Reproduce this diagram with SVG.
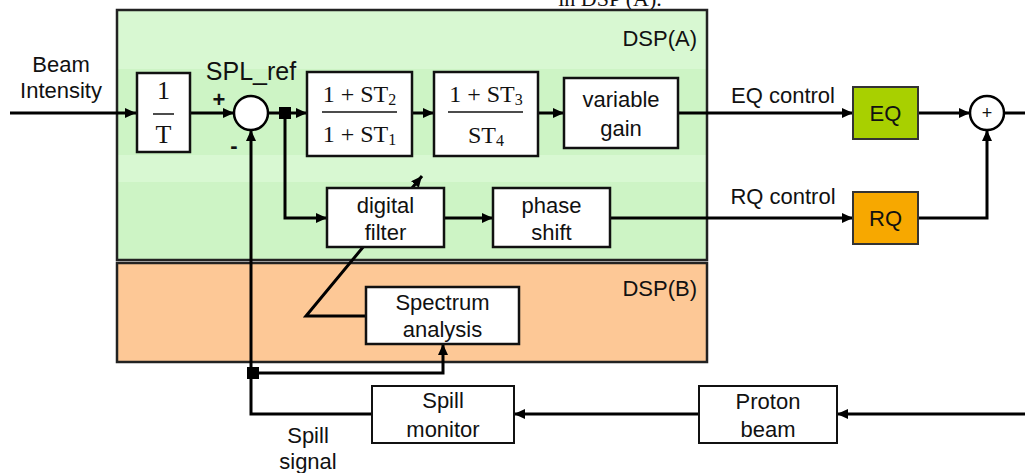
<svg xmlns="http://www.w3.org/2000/svg" width="1025" height="473" viewBox="0 0 1025 473">
<defs>
<style>
.box{fill:#fff;stroke:#111;stroke-width:2.5}
.ln{fill:none;stroke:#000;stroke-width:3}
.t{font-family:"Liberation Sans",Arial,sans-serif;font-size:22px;fill:#111;text-anchor:middle}
.m{font-family:"Liberation Serif","Times New Roman",serif;font-size:24px;fill:#111;text-anchor:middle}
.sub{font-size:16px}
.frac{stroke:#111;stroke-width:1.5}
</style>
<marker id="ah" markerUnits="userSpaceOnUse" markerWidth="12" markerHeight="10" refX="11" refY="5" orient="auto">
<path d="M0,0 L11,5 L0,10 z" fill="#000"/>
</marker>
</defs>
<rect width="1025" height="473" fill="#fff"/>
<text x="610" y="6" class="m" style="font-size:22px">in DSP (A).</text>

<g id="dspA">
<rect x="117" y="10" width="590" height="250" fill="#cdf4c5"/>
<rect x="118" y="11" width="588" height="58" fill="#d8f8d2"/>
<rect x="118" y="155" width="588" height="27" fill="#d8f8d2"/>
<rect x="117" y="10" width="590" height="250" fill="none" stroke="#222" stroke-width="2.5"/>
<text x="697" y="46" class="t" style="text-anchor:end">DSP(A)</text>
</g>
<g id="dspB">
<rect x="117" y="263" width="590" height="99" fill="#fdc896" stroke="#222" stroke-width="2.5"/>
<text x="697" y="296" class="t" style="text-anchor:end">DSP(B)</text>
</g>

<g id="connectors">
<path class="ln" d="M10,113 H136" marker-end="url(#ah)"/>
<path class="ln" d="M190,113 H234" marker-end="url(#ah)"/>
<path class="ln" d="M268,113 H307" marker-end="url(#ah)"/>
<path class="ln" d="M412,113 H434" marker-end="url(#ah)"/>
<path class="ln" d="M538,113 H564" marker-end="url(#ah)"/>
<path class="ln" d="M678,113 H853" marker-end="url(#ah)"/>
<path class="ln" d="M918,113 H970" marker-end="url(#ah)"/>
<path class="ln" d="M1004,113 H1025"/>
<path class="ln" d="M285,113 V218 H327" marker-end="url(#ah)"/>
<path class="ln" d="M444,218 H493" marker-end="url(#ah)"/>
<path class="ln" d="M610,218 H853" marker-end="url(#ah)"/>
<path class="ln" d="M918,218 H987 V130" marker-end="url(#ah)"/>
<path class="ln" d="M372,414 H251 V130" marker-end="url(#ah)"/>
<path class="ln" d="M253,373 H443 V344" marker-end="url(#ah)"/>
<path class="ln" d="M366,316 H306 L422,176" marker-end="url(#ah)"/>
<path class="ln" d="M699,414 H514" marker-end="url(#ah)"/>
<path class="ln" d="M1025,414 H837" marker-end="url(#ah)"/>
<rect x="279" y="107" width="12" height="12" fill="#000"/>
<rect x="247" y="367" width="12" height="12" fill="#000"/>
</g>

<g id="labels">
<text x="61" y="72" class="t">Beam</text>
<text x="61" y="98" class="t">Intensity</text>
<text x="251" y="80" class="t" style="font-size:25px">SPL_ref</text>
<text x="219" y="107" class="t" style="font-size:22px;font-weight:bold">+</text>
<text x="234" y="153" class="t" style="font-size:22px;font-weight:bold">-</text>
<text x="783" y="103" class="t">EQ control</text>
<text x="783" y="204" class="t">RQ control</text>
<text x="308" y="443" class="t">Spill</text>
<text x="308" y="469" class="t">signal</text>
</g>

<g id="inv-T">
<rect class="box" x="137" y="73" width="53" height="79"/>
<text x="163.5" y="99" class="m" style="font-size:26px">1</text>
<line class="frac" x1="153" y1="114" x2="174" y2="114"/>
<text x="163.5" y="143" class="m" style="font-size:26px">T</text>
</g>
<g id="sum1">
<circle cx="251" cy="113" r="17" fill="#fff" stroke="#000" stroke-width="2.5"/>
</g>
<g id="lead-lag">
<rect class="box" x="307" y="72" width="105" height="84"/>
<text x="359.5" y="102" class="m">1 + ST<tspan class="sub" dy="3">2</tspan></text>
<line class="frac" x1="322" y1="112" x2="397" y2="112"/>
<text x="359.5" y="142" class="m">1 + ST<tspan class="sub" dy="3">1</tspan></text>
</g>
<g id="pi">
<rect class="box" x="434" y="72" width="104" height="84"/>
<text x="486" y="102" class="m">1 + ST<tspan class="sub" dy="3">3</tspan></text>
<line class="frac" x1="448" y1="112" x2="523" y2="112"/>
<text x="486" y="143" class="m">ST<tspan class="sub" dy="3">4</tspan></text>
</g>
<g id="vgain">
<rect class="box" x="564" y="78" width="114" height="70"/>
<text x="621" y="107" class="t">variable</text>
<text x="621" y="136" class="t">gain</text>
</g>
<g id="EQ">
<rect x="853" y="87" width="65" height="52" fill="#a8d000" stroke="#333" stroke-width="2"/>
<text x="885.5" y="121" class="t">EQ</text>
</g>
<g id="RQ">
<rect x="853" y="192" width="65" height="52" fill="#f7a800" stroke="#333" stroke-width="2"/>
<text x="885.5" y="226" class="t">RQ</text>
</g>
<g id="sum2">
<circle cx="987" cy="113" r="17" fill="#fff" stroke="#000" stroke-width="2.5"/>
<text x="987" y="119" class="t" style="font-size:18px">+</text>
</g>
<g id="dfilter">
<rect class="box" x="327" y="188" width="117" height="59"/>
<text x="385.5" y="213" class="t">digital</text>
<text x="385.5" y="240" class="t">filter</text>
</g>
<g id="pshift">
<rect class="box" x="493" y="188" width="117" height="59"/>
<text x="551.5" y="213" class="t">phase</text>
<text x="551.5" y="240" class="t">shift</text>
</g>
<g id="spectrum">
<rect class="box" x="366" y="287" width="153" height="57"/>
<text x="442.5" y="310" class="t">Spectrum</text>
<text x="442.5" y="337" class="t">analysis</text>
</g>
<g id="spillmon">
<rect x="372" y="386" width="142" height="57" fill="#fff" stroke="#111" stroke-width="2"/>
<text x="443" y="408" class="t">Spill</text>
<text x="443" y="437" class="t">monitor</text>
</g>
<g id="proton">
<rect x="699" y="386" width="138" height="57" fill="#fff" stroke="#111" stroke-width="2"/>
<text x="768" y="409" class="t">Proton</text>
<text x="768" y="437" class="t">beam</text>
</g>
</svg>
